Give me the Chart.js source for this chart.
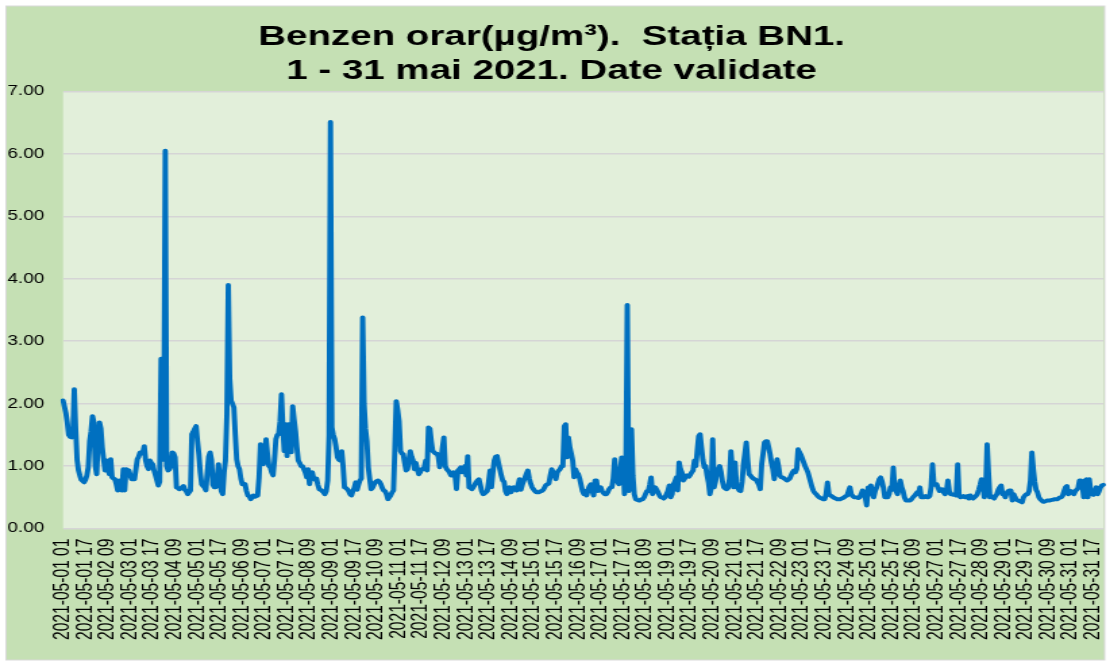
<!DOCTYPE html>
<html>
<head>
<meta charset="utf-8">
<script src="https://cdn.jsdelivr.net/npm/chart.js@4.4.1/dist/chart.umd.min.js"></script>
<style>
  html, body { margin: 0; padding: 0; background: #fff; }
  /* the reference picture is stretched sideways, so draw narrow and stretch */
  #wrap { width: 822px; height: 664px; transform: scaleX(1.3504); transform-origin: 0 0; }
  canvas { display: block; }
</style>
</head>
<body>
<div id="wrap"><canvas id="benzenChart" width="822" height="664"></canvas></div>
<script>
// hourly benzene, µg/m³, 2021-05-01 01 .. 2021-06-01 00 (one line per day)
const benzen = [
  2.05,1.95,1.85,1.7,1.5,1.47,1.46,1.5,2.23,1.6,1.1,0.93,0.85,0.78,0.76,0.74,0.78,0.85,0.98,1.4,1.56,1.8,1.7,1.0,
  0.87,1.38,1.7,1.6,1.3,1.1,0.93,1.09,0.95,0.87,1.11,0.82,0.8,0.79,0.71,0.61,0.77,0.7,0.61,0.95,0.61,0.95,0.94,0.93,
  0.85,0.79,0.79,0.79,0.95,1.11,1.15,1.22,1.2,1.22,1.32,1.09,1.0,0.95,1.09,1.05,1.03,0.93,0.85,0.77,0.69,0.75,2.72,1.1,
  1.5,6.05,1.0,0.93,0.95,1.0,1.22,1.2,1.14,0.66,0.65,0.63,0.64,0.66,0.68,0.62,0.6,0.55,0.58,0.61,1.51,1.55,1.6,1.64,
  1.4,1.19,0.9,0.71,0.68,0.66,0.61,0.9,1.15,1.22,1.1,0.7,0.66,0.66,0.8,1.03,0.77,0.6,0.55,0.9,1.09,1.83,3.9,2.4,
  2.05,2.0,1.94,1.5,1.11,1.0,0.95,0.8,0.71,0.72,0.71,0.6,0.53,0.52,0.47,0.5,0.53,0.51,0.52,0.53,0.82,1.35,1.2,1.03,
  1.2,1.43,1.2,1.0,0.98,0.9,0.85,1.1,1.43,1.5,1.51,1.72,2.15,1.6,1.24,1.67,1.16,1.67,1.4,1.22,1.96,1.75,1.56,1.3,
  1.09,1.05,1.0,1.0,0.95,0.9,0.82,0.95,0.71,0.85,0.9,0.8,0.78,0.8,0.7,0.63,0.62,0.6,0.58,0.55,0.6,0.77,1.5,6.51,
  1.62,1.5,1.43,1.3,1.14,1.1,1.09,1.24,1.0,0.66,0.65,0.63,0.6,0.55,0.53,0.6,0.65,0.74,0.62,0.7,0.77,0.8,3.38,2.0,
  1.6,1.4,0.98,0.8,0.63,0.65,0.7,0.74,0.76,0.77,0.75,0.71,0.65,0.61,0.6,0.55,0.47,0.5,0.53,0.58,0.61,1.3,2.04,1.9,
  1.72,1.24,1.2,1.19,1.05,0.93,0.95,1.1,1.24,1.15,1.09,0.95,1.05,0.95,0.87,0.9,0.95,0.95,0.98,1.09,0.93,1.62,1.6,1.4,
  1.24,1.22,1.2,1.2,1.15,0.98,1.1,1.3,1.46,1.0,0.95,0.93,0.9,0.85,0.85,0.9,0.85,0.63,0.93,0.95,0.98,0.9,0.95,1.0,
  0.85,1.16,0.66,0.65,0.63,0.66,0.7,0.74,0.77,0.79,0.7,0.6,0.55,0.56,0.58,0.6,0.75,0.93,0.66,0.9,1.09,1.15,1.16,1.05,
  0.95,0.85,0.77,0.75,0.6,0.55,0.6,0.66,0.58,0.62,0.66,0.65,0.61,0.7,0.79,0.62,0.7,0.76,0.82,0.88,0.93,0.8,0.72,0.66,
  0.63,0.6,0.58,0.58,0.58,0.6,0.6,0.62,0.66,0.7,0.71,0.72,0.85,0.95,0.9,0.85,0.79,0.9,0.93,0.95,1.0,1.0,1.64,1.67,
  1.14,1.46,1.3,1.2,1.09,0.82,0.95,0.9,0.87,0.8,0.7,0.6,0.55,0.6,0.53,0.62,0.68,0.71,0.6,0.53,0.77,0.77,0.6,0.62,
  0.66,0.6,0.57,0.55,0.55,0.58,0.63,0.66,0.66,0.8,1.11,0.87,0.75,0.71,0.9,1.14,1.1,0.55,0.85,3.58,0.6,0.9,1.59,0.85,
  0.55,0.47,0.46,0.45,0.45,0.47,0.47,0.5,0.55,0.6,0.6,0.7,0.82,0.55,0.6,0.66,0.62,0.58,0.53,0.5,0.5,0.48,0.5,0.55,
  0.6,0.69,0.5,0.55,0.71,0.75,0.82,0.61,1.06,0.95,0.9,0.77,0.8,0.85,0.85,0.83,0.86,0.9,0.93,1.09,1.0,1.25,1.48,1.51,
  1.3,1.1,0.98,1.0,0.85,0.74,0.55,0.65,1.43,0.66,0.75,0.9,0.95,1.0,0.9,0.75,0.66,0.64,0.63,0.65,0.8,1.24,0.95,0.66,
  1.06,0.7,0.65,0.61,0.6,0.75,1.03,1.2,1.38,1.1,0.87,0.85,0.82,0.8,0.79,0.78,0.74,0.7,0.63,1.03,1.2,1.38,1.4,1.4,
  1.3,1.19,1.05,0.95,0.79,1.0,1.11,1.0,0.85,0.82,0.82,0.8,0.79,0.77,0.78,0.8,0.85,0.9,0.93,0.9,0.95,1.27,1.22,1.18,
  1.12,1.06,1.0,0.95,0.9,0.82,0.74,0.66,0.6,0.57,0.55,0.52,0.5,0.49,0.48,0.47,0.47,0.55,0.74,0.55,0.53,0.52,0.5,0.49,
  0.48,0.47,0.47,0.47,0.48,0.49,0.5,0.52,0.53,0.6,0.66,0.55,0.52,0.5,0.5,0.5,0.49,0.5,0.55,0.61,0.56,0.5,0.37,0.66,
  0.66,0.69,0.55,0.5,0.6,0.65,0.72,0.79,0.82,0.75,0.65,0.5,0.5,0.5,0.55,0.66,0.62,0.98,0.66,0.6,0.55,0.66,0.77,0.66,
  0.6,0.5,0.45,0.45,0.45,0.45,0.47,0.5,0.52,0.55,0.58,0.55,0.66,0.5,0.5,0.5,0.52,0.5,0.5,0.52,0.66,1.03,0.7,0.71,
  0.71,0.65,0.6,0.62,0.63,0.58,0.55,0.6,0.77,0.6,0.55,0.55,0.54,0.54,0.53,1.03,0.53,0.5,0.51,0.52,0.5,0.5,0.52,0.48,
  0.53,0.5,0.48,0.5,0.52,0.55,0.62,0.7,0.79,0.72,0.5,0.6,1.35,0.9,0.5,0.52,0.5,0.48,0.52,0.55,0.62,0.66,0.69,0.55,
  0.55,0.5,0.57,0.6,0.61,0.61,0.45,0.55,0.5,0.46,0.45,0.44,0.43,0.42,0.5,0.53,0.55,0.55,0.6,0.77,1.22,0.95,0.75,0.62,
  0.58,0.5,0.47,0.45,0.43,0.43,0.44,0.45,0.45,0.45,0.46,0.46,0.47,0.47,0.47,0.48,0.5,0.5,0.53,0.6,0.66,0.68,0.55,0.57,
  0.6,0.58,0.55,0.6,0.62,0.65,0.77,0.77,0.7,0.5,0.77,0.79,0.5,0.79,0.6,0.55,0.54,0.6,0.66,0.55,0.6,0.66,0.69,0.7
];

// category labels "2021-05-DD HH", one per hour
const hourLabels = [];
for (let i = 0; i < benzen.length; i++) {
  const h = i + 1;
  const day = Math.floor(h / 24) + 1;
  const date = day > 31 ? '2021-06-01' : '2021-05-' + String(day).padStart(2, '0');
  hourLabels.push(date + ' ' + String(h % 24).padStart(2, '0'));
}
const labelStep = 16;   // every 16th hour gets a tick label
const yTicks = [0, 1, 2, 3, 4, 5, 6, 7];

const titleLines = ['Benzen orar(µg/m³).  Stația BN1.', '1 - 31 mai 2021. Date validate'];
const fontFamily = "'Liberation Sans', Arial, sans-serif";

const chartBackground = {
  id: 'chartBackground',
  beforeDraw(chart) {
    const { ctx, chartArea: a, width, height } = chart;
    ctx.save();
    ctx.fillStyle = '#ffffff';
    ctx.fillRect(0, 0, width, height);
    ctx.fillStyle = '#c5e0b4';
    ctx.fillRect(4.5, 6, width - 8.5, height - 10);
    ctx.strokeStyle = '#d9d9d9';
    ctx.lineWidth = 1;
    ctx.strokeRect(4.5, 6, width - 8.5, height - 10);
    ctx.fillStyle = '#e2efda';
    ctx.fillRect(a.left, a.top, a.right - a.left, a.bottom - a.top);
    ctx.restore();
  }
};

const ctx = document.getElementById('benzenChart').getContext('2d');
new Chart(ctx, {
  type: 'line',
  data: {
    labels: hourLabels,
    datasets: [{
      label: 'Benzen',
      data: benzen,
      borderColor: '#0070c0',
      borderWidth: 3.9,
      pointRadius: 0,
      tension: 0,
      fill: false,
      borderJoinStyle: 'round',
      borderCapStyle: 'round'
    }]
  },
  options: {
    responsive: false,
    animation: false,
    devicePixelRatio: 1,
    layout: { padding: { left: 0, right: 5, top: 4, bottom: 14 } },
    plugins: {
      legend: { display: false },
      tooltip: { enabled: false },
      title: {
        display: true,
        text: titleLines,
        color: '#000',
        font: { family: fontFamily, size: 28.5, weight: 'bold', lineHeight: 1.2 },
        padding: { top: 16, bottom: 3 }
      }
    },
    scales: {
      x: {
        grid: { display: false, drawTicks: false },
        border: { display: false },
        afterFit: (scale) => { scale.paddingLeft = 0; scale.paddingRight = 0; },
        ticks: {
          autoSkip: false,
          maxRotation: 90,
          minRotation: 90,
          padding: 10,
          color: '#000',
          font: { family: fontFamily, size: 15.6 },
          callback: (val, index) => (index % labelStep === 0 ? hourLabels[index] : '')
        }
      },
      y: {
        min: yTicks[0],
        max: yTicks[yTicks.length - 1],
        grid: { color: '#d5d5d5', lineWidth: 1.5, drawTicks: false },
        border: { display: false },
        afterFit: (scale) => { scale.width = 46.7; },
        ticks: {
          stepSize: 1,
          padding: 14,
          color: '#000',
          font: { family: fontFamily, size: 14 },
          callback: (v) => v.toFixed(2)
        }
      }
    }
  },
  plugins: [chartBackground]
});
</script>
</body>
</html>
